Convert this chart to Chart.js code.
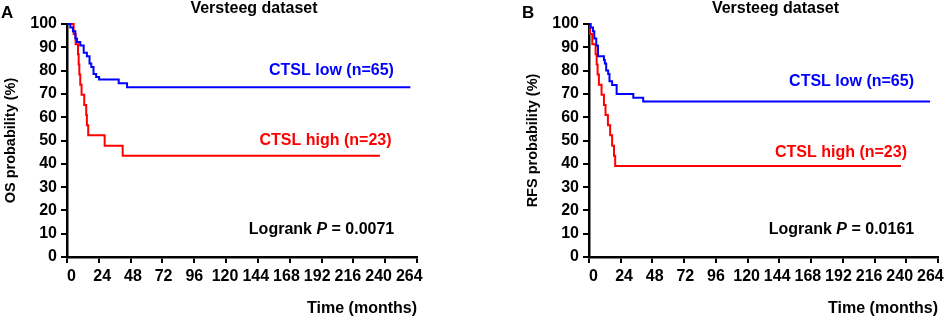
<!DOCTYPE html>
<html>
<head>
<meta charset="utf-8">
<script src="https://cdn.jsdelivr.net/npm/chart.js@4"></script>
<style>
  body { margin: 0; background: #fff; }
  canvas { position: absolute; top: 0; }
</style>
</head>
<body>
<canvas id="chartA" width="474" height="319" style="left:0"></canvas>
<canvas id="chartB" width="474" height="319" style="left:474px"></canvas>
<script>
// Kaplan-Meier curves, Versteeg dataset (OS left, RFS right)

const FONT = "'Liberation Sans', Arial, sans-serif";
const timeTicks = [0, 24, 48, 72, 96, 120, 144, 168, 192, 216, 240, 264];
const probTicks = [0, 10, 20, 30, 40, 50, 60, 70, 80, 90, 100];

// panel A - overall survival
const osLowTime = [0, 2.5, 4.5, 6.3, 7.5, 10, 12.6, 15, 17, 18.3, 20, 22, 24.2, 39, 45.3, 259];
const osLowSurv = [100, 98.5, 96.9, 93.8, 92.3, 90.8, 87.7, 86.2, 83.1, 81.5, 78.5, 77.2, 76.2, 74.6, 72.9, 72.9];
const osHighTime = [0, 5, 6.5, 8.3, 8.8, 9.3, 10, 11, 13, 14.5, 15, 16, 28.4, 42, 236];
const osHighSurv = [100, 95.7, 91.3, 87, 82.6, 78.3, 73.9, 69.6, 65.2, 60.9, 56.5, 52.2, 47.8, 43.5, 43.5];

// panel B - relapse-free survival
const rfsLowTime = [0, 1.3, 3, 4, 5.5, 6.8, 11.3, 12, 13, 14.5, 15.5, 17.5, 20.9, 33.5, 41, 258];
const rfsLowSurv = [100, 98.5, 96.9, 93.8, 90.8, 86.2, 84.6, 83.1, 80, 78.5, 75.4, 73.8, 70, 68.3, 66.7, 66.7];
const rfsHighTime = [0, 0.8, 2.5, 5, 5.8, 6.5, 7.5, 9.5, 11.3, 12.5, 14.3, 16, 17.5, 18.9, 19.8, 236];
const rfsHighSurv = [100, 95.7, 91.3, 87, 82.6, 78.3, 73.9, 69.6, 65.2, 60.9, 56.5, 52.2, 47.8, 43.5, 39.1, 39.1];

const BLUE = "#0000ff";
const RED = "#ff0000";

function curve(times, surv, color) {
  return {
    data: times.map((t, i) => ({ x: t, y: surv[i] })),
    borderColor: color,
    borderWidth: 2,
    stepped: "before",   // hold level until next event, then drop
    pointRadius: 0,
    fill: false,
    clip: 4,
  };
}

// titles, panel letter, group labels and logrank text
function textPlugin(cfg) {
  return {
    id: "panelText",
    afterDraw(chart) {
      const { ctx, chartArea } = chart;
      const x = chart.scales.x, y = chart.scales.y;
      ctx.save();
      ctx.fillStyle = "#000";
      ctx.textBaseline = "alphabetic";
      ctx.textAlign = "left";
      ctx.font = "bold 17px " + FONT;
      ctx.fillText(cfg.letter, cfg.letterX, 18);
      ctx.font = "bold 16px " + FONT;
      ctx.textAlign = "center";
      ctx.fillText("Versteeg dataset", (chartArea.left + chartArea.right) / 2 + 12, 13);

      ctx.textBaseline = "middle";
      cfg.labels.forEach(l => {
        ctx.fillStyle = l.color;
        ctx.fillText(l.text, x.getPixelForValue(l.t), y.getPixelForValue(l.v));
      });

      // "Logrank P = ..." with italic P
      const parts = [["Logrank ", "bold 16px "], ["P", "italic bold 16px "], [" = " + cfg.p, "bold 16px "]];
      let w = 0;
      parts.forEach(p => { ctx.font = p[1] + FONT; w += ctx.measureText(p[0]).width; });
      let px = x.getPixelForValue(cfg.pPos[0]) - w / 2;
      const py = y.getPixelForValue(cfg.pPos[1]);
      ctx.fillStyle = "#000";
      ctx.textAlign = "left";
      parts.forEach(p => {
        ctx.font = p[1] + FONT;
        ctx.fillText(p[0], px, py);
        px += ctx.measureText(p[0]).width;
      });
      ctx.restore();
    }
  };
}

function makeChart(canvasId, datasets, yTitle, padLeft, padRight, text) {
  const tickFont = { family: FONT, size: 16, weight: "bold" };
  return new Chart(document.getElementById(canvasId), {
    type: "line",
    data: { datasets: datasets },
    options: {
      responsive: false,
      animation: false,
      layout: { padding: { left: padLeft, right: padRight, top: 24, bottom: 0 } },
      plugins: { legend: { display: false }, tooltip: { enabled: false } },
      scales: {
        // axis line and tick marks only
        x: {
          type: "linear",
          min: 0,
          max: 264,
          weight: 0,
          afterBuildTicks: s => { s.ticks = timeTicks.map(v => ({ value: v })); },
          afterFit: s => { s.height = 0; s.paddingLeft = 0; s.paddingRight = 0; },
          border: { display: true, color: "#000", width: 2.5 },
          grid: { drawOnChartArea: false, drawTicks: true, tickLength: 6, color: "#000", lineWidth: 2 },
          ticks: { display: false }
        },
        // tick labels (set slightly tighter than the marks) and axis title
        xLabels: {
          type: "linear",
          display: true,
          position: "bottom",
          min: -3.5,
          max: 270,
          weight: 1,
          afterBuildTicks: s => { s.ticks = timeTicks.map(v => ({ value: v })); },
          afterFit: s => { s.height = 62; s.paddingLeft = 0; s.paddingRight = 0; },
          border: { display: false },
          grid: { display: false },
          ticks: { display: true, color: "#000", font: tickFont, padding: 2, maxRotation: 0, autoSkip: false },
          title: {
            display: true, text: "Time (months)", align: "end", color: "#000",
            font: { family: FONT, size: 16, weight: "bold" }, padding: { top: 0, bottom: 1 }
          }
        },
        y: {
          min: 0,
          max: 100,
          afterBuildTicks: s => { s.ticks = probTicks.map(v => ({ value: v })); },
          afterFit: s => { s.width = 67; },
          border: { display: true, color: "#000", width: 2.5 },
          grid: { drawOnChartArea: false, drawTicks: true, tickLength: 6, color: "#000", lineWidth: 2 },
          ticks: { color: "#000", font: tickFont, padding: 4 },
          title: {
            display: true, text: yTitle, color: "#000",
            font: { family: FONT, size: 14.5, weight: "bold" }, padding: { top: 2, bottom: 0 }
          }
        }
      }
    },
    plugins: [textPlugin(text)]
  });
}

makeChart("chartA",
  [curve(osLowTime, osLowSurv, BLUE), curve(osHighTime, osHighSurv, RED)],
  "OS probability (%)", 0, 57,
  {
    letter: "A", letterX: 1, p: "0.0071", pPos: [192, 11.6],
    labels: [
      { text: "CTSL low (n=65)", color: BLUE, t: 199.5, v: 79.8 },
      { text: "CTSL high (n=23)", color: RED, t: 195, v: 49.8 }
    ]
  });

makeChart("chartB",
  [curve(rfsLowTime, rfsLowSurv, BLUE), curve(rfsHighTime, rfsHighSurv, RED)],
  "RFS probability (%)", 48, 10,
  {
    letter: "B", letterX: 48, p: "0.0161", pPos: [191, 11.7],
    labels: [
      { text: "CTSL low (n=65)", color: BLUE, t: 198.6, v: 75.3 },
      { text: "CTSL high (n=23)", color: RED, t: 190.6, v: 45 }
    ]
  });
</script>
</body>
</html>
